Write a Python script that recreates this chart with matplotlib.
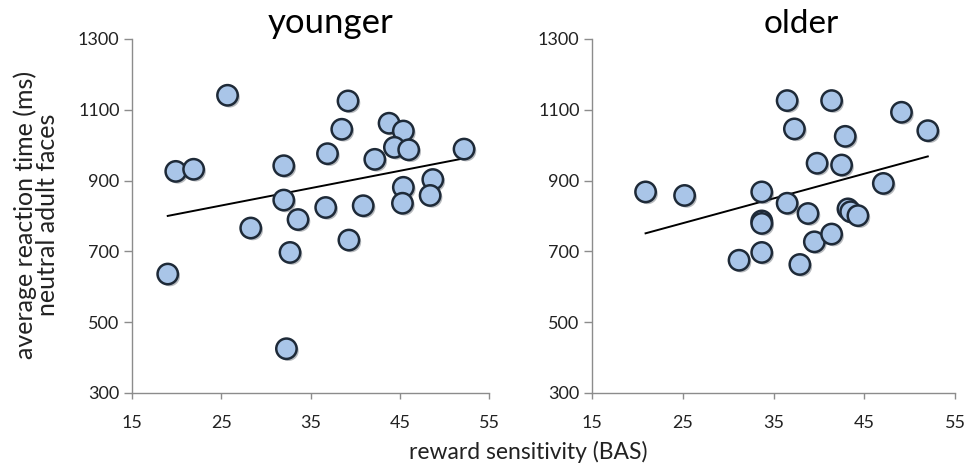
import numpy as np
import matplotlib
matplotlib.use("Agg")
import matplotlib.pyplot as plt
import matplotlib.patheffects as pe

plt.rcParams['font.family'] = ['Lato', 'DejaVu Sans']

# younger group: reward sensitivity (BAS) vs reaction time (ms)
young_bas = [19.0, 19.9, 21.9, 25.7, 28.3, 32.0, 32.0, 33.6, 32.7, 32.3, 36.9, 36.7, 38.5,
             39.2, 39.3, 40.9, 42.2, 43.8, 45.4, 44.4, 46.0, 45.4, 45.3, 48.7, 48.4, 52.2]
young_rt = [636, 926, 932, 1141, 766, 942, 845, 790, 697, 425, 976, 824, 1045,
            1125, 732, 829, 960, 1062, 1040, 994, 987, 881, 836, 903, 858, 989]

# older group
old_bas = [20.9, 25.2, 31.2, 33.7, 33.7, 33.7, 33.7, 36.5, 37.3, 36.5, 38.8, 37.9,
           39.5, 39.8, 41.4, 41.4, 42.5, 42.9, 43.2, 43.5, 44.3, 47.1, 49.1, 52.0]
old_rt = [868, 858, 675, 868, 786, 779, 697, 1126, 1046, 836, 807, 663,
          727, 949, 1126, 749, 944, 1025, 820, 812, 801, 892, 1093, 1041]

titles = ['younger', 'older']
x_ticks = [15, 25, 35, 45, 55]
y_ticks = [300, 500, 700, 900, 1100, 1300]

fig = plt.figure(figsize=(9.68, 4.67), dpi=100)
ax_young = fig.add_axes([0.1364, 0.1585, 0.3688, 0.758])
ax_old = fig.add_axes([0.6116, 0.1585, 0.375, 0.758])

axis_grey = '#8c8c8c'
for ax, xs, ys in [(ax_young, young_bas, young_rt), (ax_old, old_bas, old_rt)]:
    xs = np.array(xs)
    ys = np.array(ys)
    # linear trend line across the data range
    slope, intercept = np.polyfit(xs, ys, 1)
    lx = np.array([xs.min(), xs.max()])
    ax.plot(lx, slope * lx + intercept, color='black', lw=1.4, zorder=2)
    sc = ax.scatter(xs, ys, s=215, facecolor='#a9c5e8', edgecolor='#1e2a38',
                    linewidth=1.8, zorder=3)
    sc.set_path_effects([pe.SimplePatchShadow(offset=(1.5, -1.5), alpha=0.35),
                         pe.Normal()])

    ax.set_xlim(15, 55)
    ax.set_ylim(300, 1300)
    ax.set_xticks(x_ticks)
    ax.set_yticks(y_ticks)
    for side in ['top', 'right']:
        ax.spines[side].set_visible(False)
    for side in ['left', 'bottom']:
        ax.spines[side].set_color(axis_grey)
        ax.spines[side].set_linewidth(1.0)
    ax.tick_params(axis='both', color=axis_grey, width=1.0,
                   labelsize=13, labelcolor='#222222')
    ax.tick_params(axis='x', length=4, pad=12)
    ax.tick_params(axis='y', length=6, pad=3)

fig.text(0.341, 0.929, titles[0], fontsize=25, ha='center', va='baseline')
fig.text(0.828, 0.929, titles[1], fontsize=24, ha='center', va='baseline')

fig.text(0.037, 0.54, 'average reaction time (ms)\nneutral adult faces', rotation=90,
         fontsize=18, ha='center', va='center', multialignment='center',
         linespacing=0.95, color='#222222')
fig.text(0.546, 0.032, 'reward sensitivity (BAS)', fontsize=16.5, ha='center',
         va='center', color='#222222')

fig.savefig('out.png', dpi=100)
